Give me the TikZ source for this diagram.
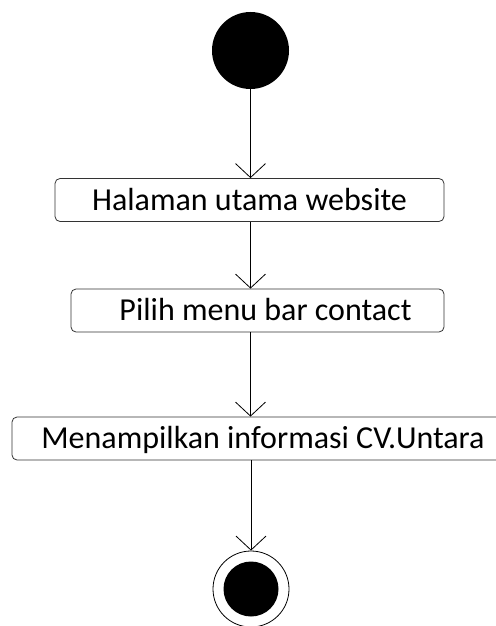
\documentclass[tikz,border=0pt]{standalone}
\usepackage{fontspec}
\setmainfont{Carlito}
\usetikzlibrary{arrows.meta,positioning}
\tikzset{>={Straight Barb[length=7pt,width=15pt]},line width=0.65pt,
  startdot/.style={circle,fill=black,minimum size=38.5pt,inner sep=0pt},
  endring/.style={circle,draw=black,minimum size=38pt,inner sep=0pt},
  action/.style={draw=black!80,rounded corners=2.5pt,inner sep=0pt,minimum height=21.5pt,
    text height=10.3pt,text depth=0pt,font=\fontsize{16pt}{19pt}\selectfont}}

\begin{document}
\begin{tikzpicture}
    \useasboundingbox (0,0) rectangle (248pt,-313pt);
    \node[startdot] (1) at (125.25pt,-25.25pt) {};
    \node[action,minimum width=194.5pt] (2) [below of=1,node distance=74.75pt,xshift=-0.5pt] {Halaman utama website};
    \node[action,minimum width=186.5pt] (3) [below of=2,node distance=55.25pt,xshift=4pt] {\hspace*{8pt}Pilih menu bar contact};
    \node[action,minimum width=251pt] (4) [below of=3,node distance=64pt,xshift=2.75pt] {Menampilkan informasi CV.Untara};
    \node[endring] (5) [below of=4,node distance=75.25pt,xshift=-6pt] {};
    \node[startdot,minimum size=27.5pt] (5a) at (5) {};
    \path[->]
    (1) edge (1 |- 2.north)
    (2.south -| 1) edge (3.north -| 1)
    (3.south -| 1) edge (4.north -| 1)
    (4.south -| 5) edge (5)
    ;
\end{tikzpicture}
\end{document}
